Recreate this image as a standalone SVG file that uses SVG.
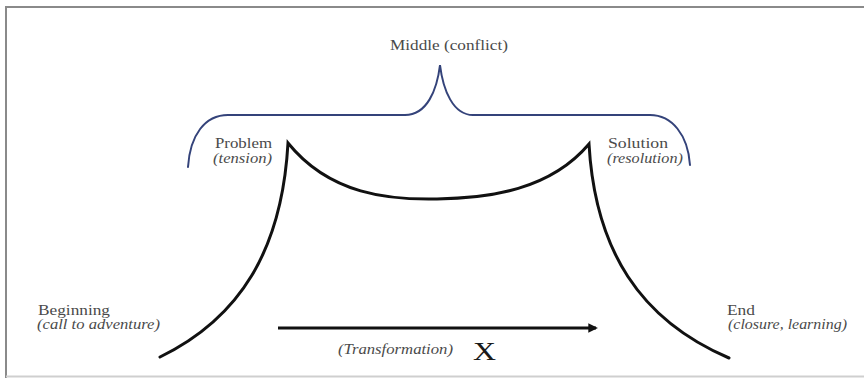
<svg xmlns="http://www.w3.org/2000/svg" width="864" height="382" viewBox="0 0 864 382">
<style>
.lbl{font-size:14.5px;fill:#4a4a4a}
.it{font-style:italic;font-size:14px}
.curve{fill:none;stroke:#111;stroke-width:3;stroke-linecap:round}
.brace{fill:none;stroke:#34437a;stroke-width:2;stroke-linecap:round}
</style>
<defs>
<marker id="ah" viewBox="0 0 10 10" refX="8" refY="5" markerWidth="3.2" markerHeight="3.2" orient="auto" markerUnits="strokeWidth">
<path d="M0,0 L10,5 L0,10 z" fill="#111"/>
</marker>
</defs>
<rect x="0" y="0" width="864" height="382" fill="#ffffff"/>
<path d="M6,378 L6,7 L864,7" fill="none" stroke="#8a8a8a" stroke-width="2"/>
<line x1="6" y1="376.5" x2="864" y2="376.5" stroke="#cfcfcf" stroke-width="2"/>

<g id="connectors">
<path id="brace" class="brace" d="M188,167 C190,135 205,115 228,115 L405,115 C427,115 437,90 440,65 C443,90 453,115 473,115 L650,115 C672,115 688,135 690,165"/>
<path id="story-arc" class="curve" d="M160,357 C240,318 282,250 288,143 C330,195 390,200 437,199 C490,198 550,190 589,144 C595,250 640,320 729,358"/>
<line id="transformation-arrow" x1="278" y1="328" x2="596" y2="328" stroke="#111" stroke-width="3" marker-end="url(#ah)"/>
</g>

<g font-family="Liberation Serif, Times New Roman, serif">
<g id="middle"><text class="lbl" x="390" y="50" textLength="118" lengthAdjust="spacingAndGlyphs">Middle (conflict)</text></g>
<g id="problem"><text class="lbl" x="215" y="148" textLength="57" lengthAdjust="spacingAndGlyphs">Problem</text><text class="lbl it" x="213" y="163" textLength="59" lengthAdjust="spacingAndGlyphs">(tension)</text></g>
<g id="solution"><text class="lbl" x="608" y="148" textLength="60" lengthAdjust="spacingAndGlyphs">Solution</text><text class="lbl it" x="607" y="163" textLength="76" lengthAdjust="spacingAndGlyphs">(resolution)</text></g>
<g id="beginning"><text class="lbl" x="38" y="315" textLength="72" lengthAdjust="spacingAndGlyphs">Beginning</text><text class="lbl it" x="37" y="329" textLength="123" lengthAdjust="spacingAndGlyphs">(call to adventure)</text></g>
<g id="end"><text class="lbl" x="727" y="315" textLength="28" lengthAdjust="spacingAndGlyphs">End</text><text class="lbl it" x="728" y="329" textLength="119" lengthAdjust="spacingAndGlyphs">(closure, learning)</text></g>
<g id="transformation"><text class="lbl it" x="338" y="354" textLength="115" lengthAdjust="spacingAndGlyphs">(Transformation)</text><text x="473" y="360" font-size="26" fill="#1a1a1a" textLength="23" lengthAdjust="spacingAndGlyphs">X</text></g>
</g>
</svg>
